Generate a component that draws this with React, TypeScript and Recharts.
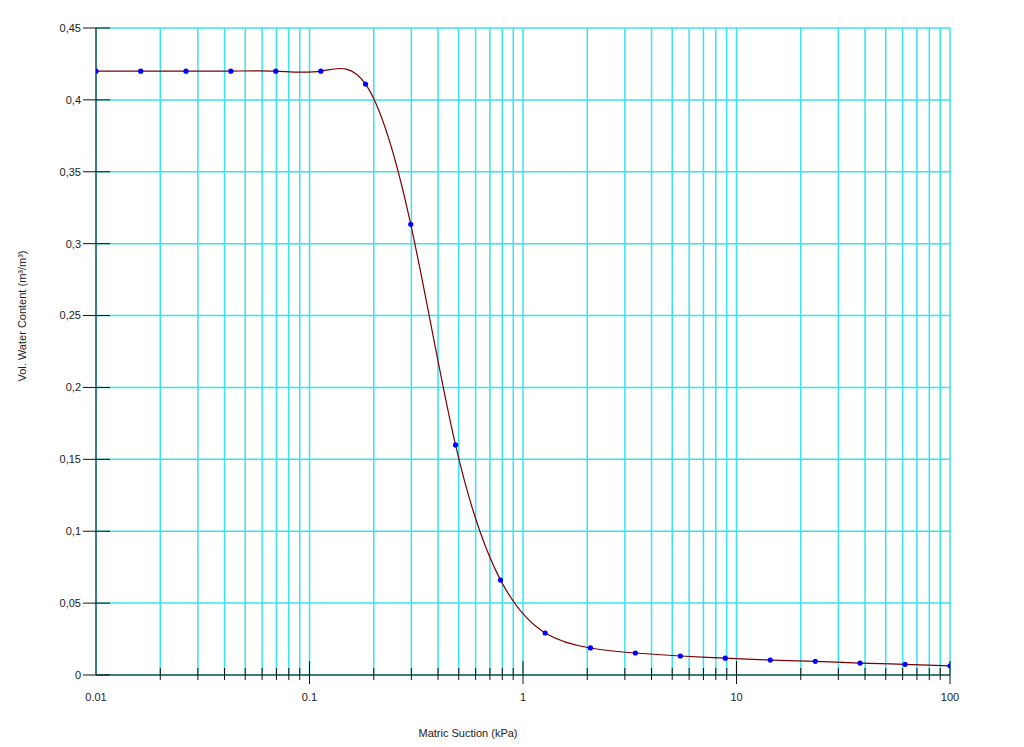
import { LineChart, Line, XAxis, YAxis, CartesianGrid } from "recharts";

// suction (kPa) and measured volumetric water content
const suction = [
  0.01, 0.0162, 0.0264, 0.0428, 0.0695, 0.113, 0.183, 0.298, 0.483, 0.785,
  1.27, 2.07, 3.36, 5.46, 8.86, 14.4, 23.4, 37.9, 61.6, 100,
];
const waterContent = [
  0.42, 0.42, 0.42, 0.42, 0.42, 0.42, 0.411, 0.3135, 0.16, 0.066,
  0.0292, 0.0188, 0.0153, 0.0132, 0.0117, 0.0104, 0.0095, 0.0083, 0.0074, 0.0064,
];

const xTicks = [
  0.01, 0.02, 0.03, 0.04, 0.05, 0.06, 0.07, 0.08, 0.09,
  0.1, 0.2, 0.3, 0.4, 0.5, 0.6, 0.7, 0.8, 0.9,
  1, 2, 3, 4, 5, 6, 7, 8, 9,
  10, 20, 30, 40, 50, 60, 70, 80, 90,
  100,
];
const xMajor = [0.01, 0.1, 1, 10, 100];
const yTicks = [0, 0.05, 0.1, 0.15, 0.2, 0.25, 0.3, 0.35, 0.4, 0.45];

const data = suction.map((s, i) => ({ s, w: waterContent[i] }));

const FONT = "'Liberation Sans', Arial, sans-serif";
const GRID = "#36e4ec";

function XTick({ x, y, payload }: any) {
  const v = payload.value;
  const major = xMajor.includes(v);
  return (
    <g>
      {v !== 0.01 && (
        <line
          x1={x}
          x2={x}
          y1={major ? y - 14 : y - 7}
          y2={major ? y + 9 : y + 5}
          stroke="#111"
          strokeWidth={1}
        />
      )}
      {major && (
        <text x={x} y={y + 26} textAnchor="middle" fontSize={11} fontFamily={FONT} fill="#222">
          {String(v)}
        </text>
      )}
    </g>
  );
}

function YTick({ x, y, payload }: any) {
  return (
    <g>
      <line x1={x - 13} x2={x + 14} y1={y} y2={y} stroke="#111" strokeWidth={1} />
      <text x={x - 15} y={y} dy="0.35em" textAnchor="end" fontSize={11} fontFamily={FONT} fill="#222">
        {String(payload.value).replace(".", ",")}
      </text>
    </g>
  );
}

export default function App() {
  return (
    <div style={{ position: "absolute", left: 0, top: 0, width: 1024, height: 747, background: "#fff" }}>
      <LineChart
        width={1024}
        height={747}
        data={data}
        margin={{ top: 28, right: 74, bottom: 42, left: 16 }}
      >
        <CartesianGrid stroke={GRID} strokeWidth={1.5} />
        <XAxis
          dataKey="s"
          type="number"
          scale="log"
          domain={[0.01, 100]}
          ticks={xTicks}
          interval={0}
          allowDataOverflow
          height={30}
          tickSize={0}
          tickMargin={0}
          tickLine={false}
          axisLine={{ stroke: "#111" }}
          tick={<XTick />}
        />
        <YAxis
          type="number"
          domain={[0, 0.45]}
          ticks={yTicks}
          interval={0}
          width={80}
          tickSize={0}
          tickMargin={0}
          tickLine={false}
          axisLine={{ stroke: "#111" }}
          tick={<YTick />}
        />
        <Line
          dataKey="w"
          type="natural"
          stroke="#7a0000"
          strokeWidth={1.2}
          dot={{ r: 2.6, fill: "#0000ff", stroke: "none" }}
          isAnimationActive={false}
        />
      </LineChart>
      <div
        style={{
          position: "absolute",
          left: 22,
          top: 316,
          transform: "translate(-50%, -50%) rotate(-90deg)",
          whiteSpace: "nowrap",
          fontFamily: FONT,
          fontSize: 11,
          color: "#222",
        }}
      >
        Vol. Water Content (m³/m³)
      </div>
      <div
        style={{
          position: "absolute",
          left: 468,
          top: 733,
          transform: "translate(-50%, -50%)",
          whiteSpace: "nowrap",
          fontFamily: FONT,
          fontSize: 11,
          color: "#222",
        }}
      >
        Matric Suction (kPa)
      </div>
    </div>
  );
}
